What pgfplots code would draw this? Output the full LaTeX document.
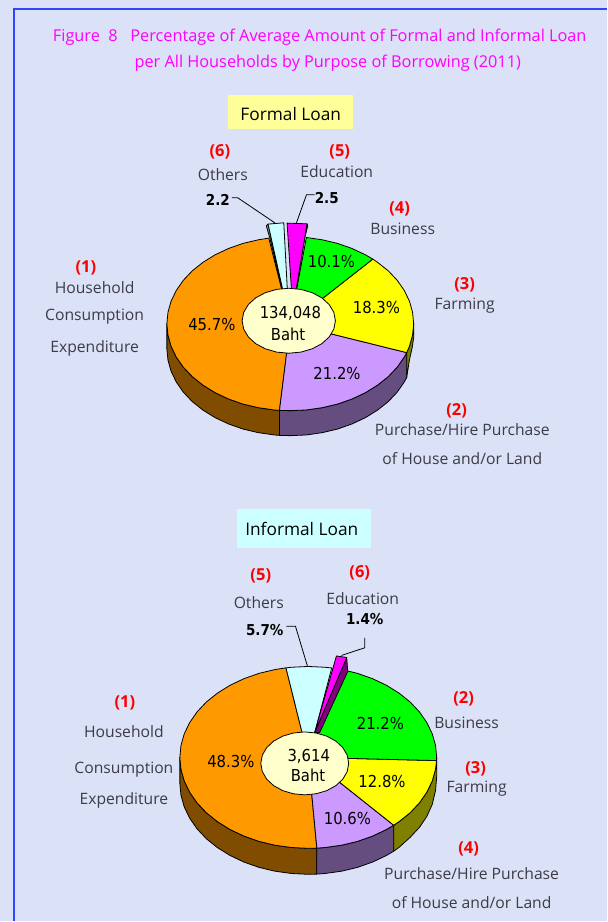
\documentclass[border=0pt]{standalone}
\usepackage{fontspec}
\setmainfont{Open Sans}
\newfontfamily\valfont{DejaVu Sans Condensed}
\usepackage{xcolor}
\usepackage{pgfplots}
\pgfplotsset{compat=1.18}
\definecolor{pagebg}{HTML}{DBE1F6}
\definecolor{frameblue}{HTML}{3344FF}
\definecolor{labgray}{HTML}{3C3C46}
\definecolor{pureMag}{HTML}{FF00FF}
\definecolor{pureRed}{HTML}{FF0000}
\definecolor{pureGreen}{HTML}{00FF00}
\definecolor{pureYellow}{HTML}{FFFF00}
\definecolor{cOrange}{HTML}{FF9900}
\definecolor{cOrangeD}{HTML}{804D00}
\definecolor{cPurple}{HTML}{CC99FF}
\definecolor{cPurpleD}{HTML}{664D80}
\definecolor{cYellowD}{HTML}{808000}
\definecolor{cCyan}{HTML}{CCFFFF}
\definecolor{cCyanD}{HTML}{7F9F9F}
\definecolor{cMagD}{HTML}{800080}
\definecolor{cHub}{HTML}{FFFFCC}
\definecolor{boxY}{HTML}{FFFF99}
\pgfplotsset{slice/.style={draw=black, line width=0.8pt, line join=round, fill=#1}}
\newcommand{\lab}[3]{\node[text=labgray, font=\fontsize{15.7}{15.7}\selectfont, inner sep=0pt, yshift=-1pt] at (axis cs:#1,#2) {#3};}
\newcommand{\num}[3]{\node[text=pureRed, font=\fontsize{16.5}{16.5}\selectfont\bfseries, inner sep=0pt, yshift=-1pt] at (axis cs:#1,#2) {#3};}
\newcommand{\val}[3]{\node[text=black, font=\fontsize{16.5}{16.5}\valfont, inner sep=0pt] at (axis cs:#1,#2) {#3};}
\newcommand{\valb}[3]{\node[text=black, font=\fontsize{15}{15}\valfont\bfseries, inner sep=0pt] at (axis cs:#1,#2) {#3};}
\begin{document}
\begin{tikzpicture}
\begin{axis}[
  scale only axis, width=607pt, height=922pt,
  xmin=0, xmax=607, ymin=0, ymax=922, y dir=reverse,
  axis line style={draw=none}, ticks=none, clip=false,
  axis background/.style={fill=pagebg},
]
% frame
\addplot[frameblue, line width=1.5pt] coordinates {(14,922) (14,9) (607,9)};

% title and boxes
\node[text=pureMag, font=\fontsize{16.3}{16.3}\selectfont, inner sep=0pt] at (axis cs:320,37) {Figure\ \ 8\ \ \ Percentage of Average Amount of Formal and Informal Loan};
\node[text=pureMag, font=\fontsize{16.3}{16.3}\selectfont, inner sep=0pt] at (axis cs:328,63) {per All Households by Purpose of Borrowing (2011)};
\addplot[draw=none, fill=boxY] coordinates {(228,95) (353,95) (353,129) (228,129)} -- cycle;
\node[text=black, font=\fontsize{17.3}{17.3}\selectfont, inner sep=0pt] at (axis cs:291,114) {Formal Loan};
\addplot[draw=none, fill=cCyan] coordinates {(237,509) (371,509) (371,548) (237,548)} -- cycle;
\node[text=black, font=\fontsize{17.3}{17.3}\selectfont, inner sep=0pt] at (axis cs:302,529) {Informal Loan};

% formal loan, sides
\addplot[slice=cOrangeD] coordinates {(167,324) (168.1,335.4) (171.2,346.5) (176.4,357.3) (183.5,367.5) (192.5,377) (203.2,385.5) (215.3,393) (228.7,399.3) (243.2,404.4) (258.5,408) (274.4,410.3) (279.7,410.7)
  (279.7,435.7) (274.4,435.3) (258.5,433) (243.2,429.4) (228.7,424.3) (215.3,418) (203.2,410.5) (192.5,402) (183.5,392.5) (176.4,382.3) (171.2,371.5) (168.1,360.4) (167,349)} -- cycle;
\addplot[slice=cPurpleD] coordinates {(279.7,410.7) (290.5,411) (306.6,410.3) (322.5,408) (337.8,404.4) (352.3,399.3) (365.7,393) (377.8,385.5) (388.5,377) (397.5,367.5) (404.6,357.3) (407,352.9)
  (407,377.9) (404.6,382.3) (397.5,392.5) (388.5,402) (377.8,410.5) (365.7,418) (352.3,424.3) (337.8,429.4) (322.5,433) (306.6,435.3) (290.5,436) (279.7,435.7)} -- cycle;
\addplot[slice=cYellowD] coordinates {(407,352.9) (409.8,346.5) (412.9,335.4) (414,324) (414,338) (412.5,348) (409.8,360) (407,377.9)} -- cycle;

% formal loan, top
\addplot[slice=cOrange] coordinates {(290.5,324) (269,238.3) (258.5,240) (243.2,243.6) (228.7,248.7) (215.3,255) (203.2,262.5) (192.5,271) (183.5,280.5) (176.4,290.7) (171.2,301.5) (168.1,312.6) (167,324) (168.1,335.4) (171.2,346.5) (176.4,357.3) (183.5,367.5) (192.5,377) (203.2,385.5) (215.3,393) (228.7,399.3) (243.2,404.4) (258.5,408) (274.4,410.3) (279.7,410.7)} -- cycle;
\addplot[slice=cPurple] coordinates {(290.5,324) (279.7,410.7) (290.5,411) (306.6,410.3) (322.5,408) (337.8,404.4) (352.3,399.3) (365.7,393) (377.8,385.5) (388.5,377) (397.5,367.5) (404.6,357.3) (407,352.9)} -- cycle;
\addplot[slice=pureYellow] coordinates {(290.5,324) (407,352.9) (409.8,346.5) (412.9,335.4) (414,324) (412.9,312.6) (409.8,301.5) (404.6,290.7) (397.5,280.5) (388.5,271) (377.8,262.5) (373.1,259.3)} -- cycle;
\addplot[slice=pureGreen] coordinates {(290.5,324) (373.1,259.3) (365.7,255) (352.3,248.7) (337.8,243.6) (322.5,240) (306.6,237.7)} -- cycle;
% exploded slices
\addplot[slice=cCyanD] coordinates {(268.3,224.3) (266.5,226) (270,238) (282,289) (289,317)} -- cycle;
\addplot[slice=cCyan] coordinates {(289,317) (268.3,224.3) (284,223)} -- cycle;
\addplot[slice=cMagD] coordinates {(307.3,224) (308,226) (305,238) (297,287) (293,310)} -- cycle;
\addplot[slice=pureMag] coordinates {(293,310) (287.3,223.3) (307.3,224)} -- cycle;
% hub
\addplot[slice=cHub] coordinates {(335.7,321) (334.1,312.6) (329.4,304.7) (322,298) (312.4,292.9) (301.1,289.6) (289,288.5) (276.9,289.6) (265.6,292.9) (256,298) (248.6,304.7) (243.9,312.6) (242.3,321) (243.9,329.4) (248.6,337.3) (256,344) (265.6,349.1) (276.9,352.4) (289,353.5) (301.1,352.4) (312.4,349.1) (322,344) (329.4,337.3) (334.1,329.4)} -- cycle;
% leaders
\addplot[black, line width=0.8pt] coordinates {(232,198) (238,198) (275,223)};
\addplot[black, line width=0.8pt] coordinates {(315,195) (306.7,195) (296.7,223)};

\val{331.7}{261.7}{10.1\%}
\val{376.7}{307.3}{18.3\%}
\val{337.3}{374}{21.2\%}
\val{212}{325}{45.7\%}
\val{290.7}{313.3}{134,048}
\val{288.3}{335}{Baht}
\valb{218}{200}{2.2}
\valb{327}{198}{2.5}

\num{220}{151}{(6)} \lab{223}{174}{Others}
\num{340}{151}{(5)} \lab{337}{171}{Education}
\num{400}{208}{(4)} \lab{403}{228}{Business}
\num{465}{284}{(3)} \lab{465}{305}{Farming}
\num{457}{410}{(2)} \lab{462.7}{429}{Purchase/Hire Purchase} \lab{462.7}{458}{of House and/or Land}
\num{86}{267}{(1)} \lab{94.7}{287}{Household} \lab{94.7}{316}{Consumption} \lab{94.7}{348}{Expenditure}

% informal loan, sides
\addplot[slice=cOrangeD] coordinates {(180,758) (181.1,769.9) (184.4,781.6) (189.8,792.8) (197.2,803.5) (206.5,813.4) (217.6,822.3) (230.3,830.2) (244.2,836.8) (259.3,842.1) (275.2,845.9) (291.7,848.2) (308.5,849) (317.1,848.8)
  (317.1,874.8) (308.5,875) (291.7,874.2) (275.2,871.9) (259.3,868.1) (244.2,862.8) (230.3,856.2) (217.6,848.3) (206.5,839.4) (197.2,829.5) (189.8,818.8) (184.4,807.6) (181.1,795.9) (180,784)} -- cycle;
\addplot[slice=cPurpleD] coordinates {(317.1,848.8) (325.3,848.2) (341.8,845.9) (357.7,842.1) (372.8,836.8) (386.7,830.2) (394,825.9)
  (394,851.9) (386.7,856.2) (372.8,862.8) (357.7,868.1) (341.8,871.9) (325.3,874.2) (317.1,874.8)} -- cycle;
\addplot[slice=cYellowD] coordinates {(394,825.9) (399.4,822.3) (410.5,813.4) (419.8,803.5) (427.2,792.8) (432.6,781.6) (435.9,769.9) (437,758)
  (437,778) (435.9,791) (432.6,805) (427.2,817) (419.8,828) (410.5,838) (399.4,848) (394,851.9)} -- cycle;

% informal loan, top
\addplot[slice=cOrange] coordinates {(308.5,758) (286.2,668.4) (275.2,670.1) (259.3,673.9) (244.2,679.2) (230.3,685.8) (217.6,693.7) (206.5,702.6) (197.2,712.5) (189.8,723.2) (184.4,734.4) (181.1,746.1) (180,758) (181.1,769.9) (184.4,781.6) (189.8,792.8) (197.2,803.5) (206.5,813.4) (217.6,822.3) (230.3,830.2) (244.2,836.8) (259.3,842.1) (275.2,845.9) (291.7,848.2) (308.5,849) (317.1,848.8)} -- cycle;
\addplot[slice=cPurple] coordinates {(308.5,758) (317.1,848.8) (325.3,848.2) (341.8,845.9) (357.7,842.1) (372.8,836.8) (386.7,830.2) (394,825.9)} -- cycle;
\addplot[slice=pureYellow] coordinates {(308.5,758) (394,825.9) (399.4,822.3) (410.5,813.4) (419.8,803.5) (427.2,792.8) (432.6,781.6) (435.9,769.9) (436.9,761.2)} -- cycle;
\addplot[slice=pureGreen] coordinates {(308.5,758) (436.9,761.2) (437,758) (435.9,746.1) (432.6,734.4) (427.2,723.2) (419.8,712.5) (410.5,702.6) (399.4,693.7) (386.7,685.8) (372.8,679.2) (357.7,673.9) (343,670.3)} -- cycle;
\addplot[slice=cCyan] coordinates {(308.5,758) (332,668.5) (325.3,667.8) (308.5,667) (291.7,667.8) (286.2,668.4)} -- cycle;
\addplot[slice=cMagD] coordinates {(315,733) (347,658) (348,672) (320,733)} -- cycle;
\addplot[slice=pureMag] coordinates {(315,733) (336.7,656.5) (347,658)} -- cycle;
% hub
\addplot[slice=cHub] coordinates {(349,764) (347.5,755.8) (343.1,748.2) (336.1,741.7) (327,736.7) (316.4,733.6) (305,732.5) (293.6,733.6) (283,736.7) (273.9,741.7) (266.9,748.2) (262.5,755.8) (261,764) (262.5,772.2) (266.9,779.8) (273.9,786.3) (283,791.3) (293.6,794.4) (305,795.5) (316.4,794.4) (327,791.3) (336.1,786.3) (343.1,779.8) (347.5,772.2)} -- cycle;
% leaders
\addplot[black, line width=0.8pt] coordinates {(286.7,626.7) (295.7,626.7) (307.7,666.7)};
\addplot[black, line width=0.8pt] coordinates {(365,638.3) (365,648.3) (341.7,656)};

\val{380.7}{724}{21.2\%}
\val{382.3}{781.7}{12.8\%}
\val{347.7}{819.3}{10.6\%}
\val{231}{761.7}{48.3\%}
\val{309}{756.7}{3,614}
\val{308.3}{775.7}{Baht}
\valb{265}{631}{5.7\%}
\valb{365}{620}{1.4\%}

\num{261}{575}{(5)} \lab{259}{602}{Others}
\num{360}{572}{(6)} \lab{363}{598}{Education}
\num{464}{698}{(2)} \lab{467}{722}{Business}
\num{476}{768}{(3)} \lab{477}{788}{Farming}
\num{469}{849}{(4)} \lab{472}{873}{Purchase/Hire Purchase} \lab{472}{902}{of House and/or Land}
\num{125}{702}{(1)} \lab{124}{731}{Household} \lab{124}{769}{Consumption} \lab{124}{800}{Expenditure}
\end{axis}
\end{tikzpicture}
\end{document}
